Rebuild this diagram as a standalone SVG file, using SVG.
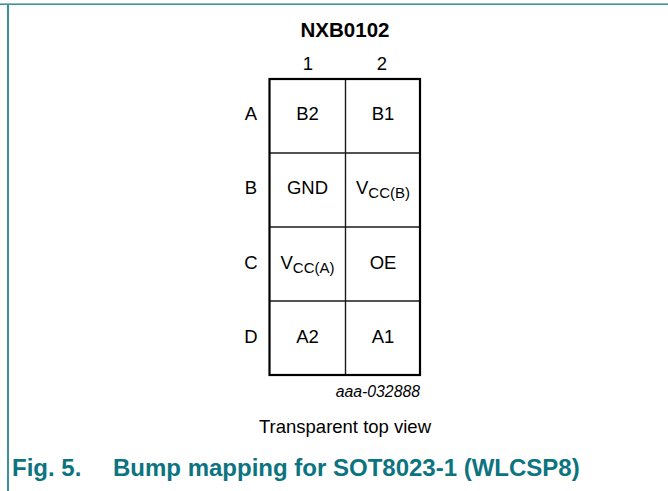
<svg xmlns="http://www.w3.org/2000/svg" width="668" height="491" viewBox="0 0 668 491">
<style>
text{font-family:"Liberation Sans",Arial,sans-serif;fill:#000}
.lbl{font-size:18.5px;text-anchor:middle}
.sub{font-size:15px}
.cap{font-size:24px;font-weight:bold;fill:#0b7480}
.grid{stroke:#1a1a1a;stroke-width:1.4;fill:none}
</style>
<rect x="0" y="0" width="668" height="491" fill="#fff"/>
<line x1="0" y1="3.5" x2="668" y2="3.5" stroke="#8cc2c4" stroke-width="1"/>
<line x1="0" y1="4.5" x2="668" y2="4.5" stroke="#3e9297" stroke-width="1.2"/>
<line x1="8" y1="4" x2="8" y2="491" stroke="#3e9297" stroke-width="2"/>
<text x="345" y="37" style="font-size:20.5px;font-weight:bold;text-anchor:middle">NXB0102</text>
<text class="lbl" x="308" y="70">1</text>
<text class="lbl" x="382" y="70">2</text>
<g id="rows">
<text class="lbl" x="251" y="120">A</text>
<text class="lbl" x="251" y="194">B</text>
<text class="lbl" x="251" y="269">C</text>
<text class="lbl" x="251" y="343">D</text>
</g>
<g id="connectors">
<line class="grid" x1="345.5" y1="79" x2="345.5" y2="375"/>
<line class="grid" x1="269.5" y1="153" x2="420" y2="153"/>
<line class="grid" x1="269.5" y1="227" x2="420" y2="227"/>
<line class="grid" x1="269.5" y1="301" x2="420" y2="301"/>
</g>
<rect id="package" x="269.5" y="79" width="150.5" height="296" fill="none" stroke="#000" stroke-width="2.2"/>
<g id="A1c"><text class="lbl" x="307.5" y="120">B2</text></g>
<g id="A2c"><text class="lbl" x="383" y="120">B1</text></g>
<g id="B1c"><text class="lbl" x="307.5" y="194">GND</text></g>
<g id="B2c"><text class="lbl" x="383" y="194">V<tspan class="sub" dy="4">CC(B)</tspan></text></g>
<g id="C1c"><text class="lbl" x="307.5" y="269">V<tspan class="sub" dy="4">CC(A)</tspan></text></g>
<g id="C2c"><text class="lbl" x="383" y="269">OE</text></g>
<g id="D1c"><text class="lbl" x="307.5" y="343">A2</text></g>
<g id="D2c"><text class="lbl" x="383" y="343">A1</text></g>
<text x="420" y="397" style="font-size:15.8px;font-style:italic;text-anchor:end">aaa-032888</text>
<text class="lbl" x="345" y="433">Transparent top view</text>
<text class="cap" x="12" y="476">Fig. 5.</text>
<text class="cap" x="113" y="476">Bump mapping for SOT8023-1 (WLCSP8)</text>
</svg>
